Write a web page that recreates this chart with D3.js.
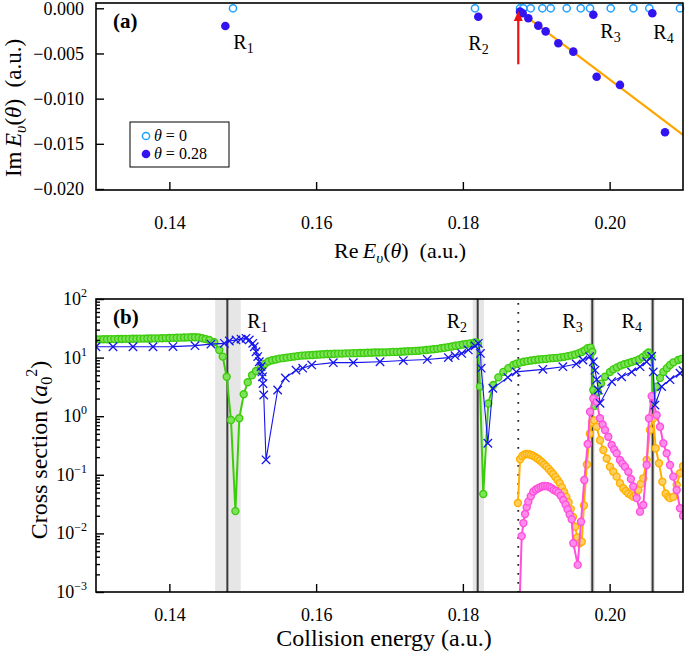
<!DOCTYPE html>
<html><head><meta charset="utf-8">
<script src="https://cdn.jsdelivr.net/npm/d3@7"></script>
<style>
body{margin:0;background:#fff}
svg{display:block}
text{font-family:"Liberation Serif","Times New Roman",serif;fill:#000}
</style>
</head><body>
<svg id="chart" width="685" height="656"></svg>
<script>
// ---------------- Panel (a) data ----------------
const openRe = [0.14867,0.18165,0.18779,0.18824,0.18924,0.19083,0.19197,0.19415,0.19606,0.19733,0.20015,0.20323,0.20541,0.20959];
const openIm = [0,0,0,0,0,0,0,0,0,0,0,0,0,0];
const filledRe = [0.14763,0.18210,0.18779,0.18815,0.18892,0.19028,0.19128,0.19301,0.19505,0.19778,0.19823,0.20141,0.20582,0.20755];
const filledIm = [-0.00196,-0.00093,-0.00037,-0.00055,-0.0011,-0.00192,-0.00255,-0.00387,-0.0048,-0.00071,-0.00757,-0.00848,-0.00055,-0.01372];
const fitRe = [0.1878,0.2100];
const fitIm = [-0.0004,-0.0140];
const arrowRe = 0.18755;
const arrowIm = [-0.0062,-0.0003];
const resLabelsA = [{n:"1",re:0.14763,im:-0.00196},{n:"2",re:0.18210,im:-0.00093},{n:"3",re:0.19778,im:-0.00071},{n:"4",re:0.20582,im:-0.00055}];
const xTicks = [0.14,0.16,0.18,0.20];
const xTickLabels = ["0.14","0.16","0.18","0.20"];
const yTicksA = [0,-0.005,-0.010,-0.015,-0.020];
const yTickLabelsA = ["0.000","\u22120.005","\u22120.010","\u22120.015","\u22120.020"];

// ---------------- Panel (b) data ----------------
const green = [
[0.1300,20.5],[0.1305,20.5],[0.1310,20.6],[0.1315,20.6],[0.1320,20.7],[0.1325,20.7],[0.1330,20.8],[0.1335,20.8],
[0.1340,20.9],[0.1345,20.9],[0.1350,21.0],[0.1355,21.0],[0.1360,21.1],[0.1365,21.1],[0.1370,21.2],[0.1375,21.2],
[0.1380,21.3],[0.1385,21.3],[0.1390,21.4],[0.1395,21.5],[0.1400,21.6],[0.1405,21.7],[0.1410,21.8],[0.1415,21.9],
[0.1420,22.0],[0.1425,22.1],[0.1430,22.2],[0.1435,22.2],[0.1440,22.0],[0.1445,21.4],[0.14495,20.7],[0.14544,20.0],
[0.14612,18.3],[0.14680,13.5],[0.14727,10.4],[0.14781,4.7],[0.14840,0.86],[0.14900,0.024],[0.14953,0.92],[0.15013,2.37],
[0.15068,3.8],[0.15126,5.0],[0.15181,5.9],[0.15249,7.0],[0.1530,7.8],[0.1535,8.6],[0.1540,9.0],[0.1545,9.3],
[0.1550,9.6],[0.1555,9.8],[0.1560,10.0],[0.1565,10.2],[0.1570,10.4],[0.1575,10.6],[0.1580,10.8],[0.1585,10.9],
[0.1590,11.0],[0.1595,11.1],[0.1600,11.2],[0.1605,11.3],[0.1610,11.4],[0.1615,11.5],[0.1620,11.5],[0.1625,11.6],
[0.1630,11.7],[0.1635,11.7],[0.1640,11.8],[0.1645,11.8],[0.1650,11.9],[0.1655,11.9],[0.1660,12.0],[0.1665,12.0],
[0.1670,12.1],[0.1675,12.1],[0.1680,12.2],[0.1685,12.2],[0.1690,12.3],[0.1695,12.3],[0.1700,12.4],[0.1705,12.5],
[0.1710,12.5],[0.1715,12.6],[0.1720,12.7],[0.1725,12.8],[0.1730,12.9],[0.1735,13.0],[0.1740,13.1],[0.1745,13.3],
[0.1750,13.5],[0.1755,13.7],[0.1760,13.9],[0.1765,14.1],[0.1770,14.4],[0.1775,14.7],[0.1780,15.1],[0.1785,15.5],
[0.1790,15.9],[0.1795,16.3],[0.1800,16.7],[0.1805,17.1],[0.1810,17.5],[0.1815,17.9],[0.18185,18.2],[0.18205,17.0],
[0.18233,3.2],[0.18278,0.047],[0.18346,1.65],[0.18415,3.4],[0.18483,4.6],[0.18551,5.7],[0.18619,6.6],[0.18687,7.5],
[0.1873,7.9],[0.18779,8.2],[0.1883,8.5],[0.1888,8.7],[0.1893,8.9],[0.1898,9.1],[0.1903,9.3],[0.1908,9.4],
[0.1913,9.5],[0.1918,9.7],[0.1923,9.8],[0.1928,9.9],[0.1933,10.1],[0.1938,10.3],[0.1943,10.6],[0.1948,10.9],
[0.1953,11.3],[0.1958,11.9],[0.1962,12.5],[0.1966,13.3],[0.1970,14.5],[0.1974,14.8],[0.19764,12.6],[0.19778,2.8],
[0.1980,1.5],[0.1984,2.6],[0.19883,3.6],[0.19937,4.7],[0.20005,5.7],[0.2005,6.3],[0.2010,6.8],[0.2015,7.3],
[0.2020,7.7],[0.2025,8.0],[0.2030,8.4],[0.2035,8.8],[0.2040,9.3],[0.2045,10.2],[0.2050,11.4],[0.2053,12.2],
[0.2057,10.5],[0.20595,1.8],[0.20641,3.2],[0.20687,4.5],[0.20732,5.7],[0.2078,6.6],[0.20823,7.5],[0.2087,8.3],
[0.20936,9.1],[0.2098,9.5]
];
const blue = [
[0.1300,15.3],[0.13232,15.3],[0.13504,15.3],[0.13777,15.3],[0.14049,15.4],[0.14349,16.0],[0.14567,17.0],[0.14749,17.5],
[0.14817,19.2],[0.14908,20.0],[0.14976,20.7],[0.15044,21.3],[0.15089,20.0],[0.15136,17.5],[0.15157,15.3],[0.15181,12.6],
[0.15204,10.4],[0.15226,8.5],[0.15249,7.0],[0.15262,5.7],[0.15270,4.7],[0.15276,3.6],[0.15286,2.3],[0.15317,0.18],
[0.15476,2.8],[0.15580,4.5],[0.15726,6.1],[0.15817,6.6],[0.15940,7.5],[0.16234,8.2],[0.16507,8.2],[0.16871,8.5],
[0.17188,8.9],[0.17515,9.3],[0.17802,10.0],[0.17893,10.8],[0.17984,11.8],[0.18074,13.5],[0.18165,15.8],[0.18210,17.5],
[0.18240,11.8],[0.18250,6.6],[0.18340,0.345],[0.18408,3.0],[0.18612,4.6],[0.18727,5.7],[0.19090,6.3],[0.19363,7.0],
[0.19545,7.8],[0.19636,9.1],[0.19727,10.4],[0.19778,8.5],[0.19801,6.1],[0.19824,4.2],[0.19846,2.8],[0.19869,1.66],
[0.20028,3.9],[0.20164,4.7],[0.20300,5.7],[0.20414,7.0],[0.20505,8.5],[0.20573,10.6],[0.20595,5.7],[0.20618,1.55],
[0.20709,3.2],[0.20823,4.2],[0.20959,5.4],[0.2100,6.0]
];
const orange = [
[0.18750,0.033],[0.18780,0.184],[0.18810,0.21],[0.18840,0.222],[0.18870,0.226],[0.18900,0.224],[0.18930,0.218],[0.18960,0.21],
[0.18990,0.199],[0.19020,0.188],[0.19050,0.175],[0.19080,0.163],[0.19110,0.150],[0.19140,0.138],[0.19170,0.126],[0.19200,0.114],
[0.19230,0.103],[0.19260,0.092],[0.19290,0.082],[0.19320,0.072],[0.19350,0.061],[0.19380,0.051],[0.19410,0.042],[0.19440,0.034],
[0.19470,0.026],[0.19500,0.019],[0.19530,0.013],[0.19560,0.0085],[0.19590,0.0068],[0.19620,0.0072],[0.19650,0.03],[0.19690,0.15],
[0.19730,0.5],[0.19760,0.78],[0.19790,0.85],[0.19824,0.66],[0.19869,0.39],[0.19914,0.265],[0.19960,0.19],[0.20005,0.137],
[0.20050,0.113],[0.20096,0.093],[0.20141,0.072],[0.20186,0.059],[0.20220,0.053],[0.20255,0.048],[0.20290,0.045],[0.20323,0.042],
[0.20358,0.045],[0.20391,0.055],[0.20425,0.07],[0.20459,0.087],[0.20505,0.179],[0.20550,0.58],[0.20595,0.92],[0.20628,0.283],
[0.20673,0.157],[0.20718,0.076],[0.20764,0.048],[0.20800,0.042],[0.20823,0.040],[0.20868,0.042],[0.20914,0.067],[0.20959,0.106],
[0.2100,0.14]
];
const magenta = [
[0.18765,0.0003],[0.18802,0.009],[0.18825,0.015],[0.18847,0.0214],[0.18870,0.028],[0.18892,0.0348],[0.18925,0.043],
[0.18960,0.0515],[0.18995,0.056],[0.19028,0.0589],[0.19060,0.062],[0.19090,0.064],[0.19119,0.0645],[0.19150,0.064],[0.19180,0.062],
[0.19210,0.0589],[0.19240,0.055],[0.19270,0.053],[0.19301,0.0496],[0.19335,0.044],[0.19369,0.0372],[0.19400,0.031],[0.19428,0.0257],
[0.19455,0.021],[0.19483,0.0174],[0.19505,0.0068],[0.19565,0.0029],[0.19610,0.0158],[0.19655,0.0815],[0.19701,0.336],[0.19733,1.19],
[0.19778,2.0],[0.19824,1.77],[0.19869,0.92],[0.19905,0.72],[0.19937,0.58],[0.19982,0.447],[0.20028,0.323],[0.20062,0.27],
[0.20096,0.233],[0.20141,0.179],[0.20175,0.155],[0.20209,0.137],[0.20255,0.113],[0.20290,0.085],[0.20323,0.063],[0.20369,0.040],
[0.20414,0.0235],[0.20459,0.0305],[0.20505,0.147],[0.20536,0.92],[0.20573,2.2],[0.20641,1.05],[0.20687,0.66],[0.20732,0.345],
[0.20778,0.233],[0.20823,0.147],[0.20868,0.093],[0.20914,0.055],[0.20959,0.0268],[0.2100,0.02]
];
const resE = [0.1479,0.18202,0.19764,0.20586];
const resBandLo = [0.14624,0.18134,0.19729,0.20556];
const resBandHi = [0.14972,0.18288,0.19799,0.20616];
const resNames = ["1","2","3","4"];
const thresholdE = 0.18755;
const yTicksB = [1e-3,1e-2,1e-1,1e0,1e1,1e2];
const yTickExpB = ["\u22123","\u22122","\u22121","0","1","2"];

// ---------------- Drawing ----------------
const svg = d3.select("#chart");
const L = 96, R = 683;

// Panel (a)
const xA = d3.scaleLinear().domain([0.13,0.21]).range([L,R]);
const yA = d3.scaleLinear().domain([-0.02011,0.000586]).range([190,3]);
const gA = svg.append("g");
gA.append("defs").append("clipPath").attr("id","clipA").append("rect")
  .attr("x",L).attr("y",3).attr("width",R-L).attr("height",187);

gA.append("line").attr("clip-path","url(#clipA)")
  .attr("x1",xA(fitRe[0])).attr("y1",yA(fitIm[0])).attr("x2",xA(fitRe[1])).attr("y2",yA(fitIm[1]))
  .attr("stroke","#ffa500").attr("stroke-width",2.2);

gA.append("g").selectAll("circle").data(openRe).join("circle")
  .attr("cx",d=>xA(d)).attr("cy",(d,i)=>yA(openIm[i])).attr("r",3.6)
  .attr("fill","#fff").attr("stroke","#1ea0ff").attr("stroke-width",1.5);
gA.append("g").selectAll("circle").data(filledRe).join("circle")
  .attr("cx",d=>xA(d)).attr("cy",(d,i)=>yA(filledIm[i])).attr("r",4.3)
  .attr("fill","#3214f0");

gA.append("line").attr("x1",xA(arrowRe)).attr("x2",xA(arrowRe))
  .attr("y1",yA(arrowIm[0])).attr("y2",yA(arrowIm[1])+7)
  .attr("stroke","#ee1111").attr("stroke-width",2.2);
{
  const ax = xA(arrowRe), ay = yA(arrowIm[1]);
  gA.append("path").attr("d",`M${ax},${ay} L${ax-4.5},${ay+10} L${ax+4.5},${ay+10} Z`).attr("fill","#ee1111");
}

const axA_x = d3.axisBottom(xA).tickValues(xTicks).tickFormat((d,i)=>xTickLabels[i])
  .tickSizeInner(-8).tickSizeOuter(0).tickPadding(26);
gA.append("g").attr("transform","translate(0,190)").call(axA_x);
const axA_y = d3.axisLeft(yA).tickValues(yTicksA).tickFormat((d,i)=>yTickLabelsA[i])
  .tickSizeInner(-8).tickSizeOuter(0).tickPadding(12);
gA.append("g").attr("transform",`translate(${L},0)`).call(axA_y);
gA.append("rect").attr("x",L).attr("y",3).attr("width",R-L).attr("height",187)
  .attr("fill","none").attr("stroke","#000").attr("stroke-width",1.6);

const offA = [[8,23],[-10,33],[7,23],[1,26]];
resLabelsA.forEach((r,i)=>{
  const t = gA.append("text").attr("x",xA(r.re)+offA[i][0]).attr("y",yA(r.im)+offA[i][1]).attr("font-size",20);
  t.append("tspan").text("R");
  t.append("tspan").attr("font-size",14).attr("dy",4).text(r.n);
});

const lg = gA.append("g");
lg.append("rect").attr("x",130).attr("y",122).attr("width",99).attr("height",45)
  .attr("fill","#fff").attr("stroke","#000").attr("stroke-width",1);
lg.append("circle").attr("cx",146).attr("cy",136).attr("r",3.6).attr("fill","#fff").attr("stroke","#1ea0ff").attr("stroke-width",1.5);
lg.append("circle").attr("cx",146).attr("cy",154).attr("r",4.3).attr("fill","#3214f0");
[["0",141],["0.28",159]].forEach(([v,y])=>{
  const t = lg.append("text").attr("x",154).attr("y",y).attr("font-size",16);
  t.append("tspan").attr("font-style","italic").text("\u03b8");
  t.append("tspan").text(" = "+v);
});

gA.append("text").attr("x",113).attr("y",28).attr("font-size",21).attr("font-weight","bold").text("(a)");

{
  const t = gA.append("text").attr("x",400).attr("y",258).attr("text-anchor","middle").attr("font-size",22);
  t.append("tspan").text("Re\u2009");
  t.append("tspan").attr("font-style","italic").text("E");
  t.append("tspan").attr("font-style","italic").attr("font-size",15).attr("dy",5).text("\u03c5");
  t.append("tspan").attr("dy",-5).text("(");
  t.append("tspan").attr("font-style","italic").text("\u03b8");
  t.append("tspan").text(")\u2002(a.u.)");
}
{
  const t = gA.append("text").attr("transform","translate(21,108) rotate(-90)").attr("text-anchor","middle").attr("font-size",23);
  t.append("tspan").text("Im\u2009");
  t.append("tspan").attr("font-style","italic").text("E");
  t.append("tspan").attr("font-style","italic").attr("font-size",16).attr("dy",5).text("\u03c5");
  t.append("tspan").attr("dy",-5).text("(");
  t.append("tspan").attr("font-style","italic").text("\u03b8");
  t.append("tspan").text(")\u2002(a.u.)");
}

// Panel (b)
const T = 299, B = 592;
const xB = d3.scaleLinear().domain([0.13,0.21]).range([L,R]);
const yB = d3.scaleLog().domain([1e-3,1e2]).range([B,T]);
const gB = svg.append("g");
gB.append("defs").append("clipPath").attr("id","clipB").append("rect")
  .attr("x",L).attr("y",T).attr("width",R-L).attr("height",B-T);

gB.append("g").selectAll("rect").data(resE).join("rect")
  .attr("x",(d,i)=>xB(resBandLo[i])).attr("width",(d,i)=>xB(resBandHi[i])-xB(resBandLo[i]))
  .attr("y",T).attr("height",B-T).attr("fill","#e6e6e6");
gB.append("g").selectAll("line").data(resE).join("line")
  .attr("x1",d=>xB(d)).attr("x2",d=>xB(d)).attr("y1",T).attr("y2",B)
  .attr("stroke","#3a3a3a").attr("stroke-width",2);
gB.append("line").attr("x1",xB(thresholdE)).attr("x2",xB(thresholdE)).attr("y1",T+4).attr("y2",B)
  .attr("stroke","#222").attr("stroke-width",1.8).attr("stroke-dasharray","1.8,7.2");

const plot = gB.append("g").attr("clip-path","url(#clipB)");
const lineGen = d3.line().x(d=>xB(d[0])).y(d=>yB(d[1]));

function circleSeries(data, lineColor, fill, stroke){
  plot.append("path").datum(data).attr("d",lineGen).attr("fill","none")
    .attr("stroke",lineColor).attr("stroke-width",2);
  plot.append("g").selectAll("circle").data(data.filter(d=>d[1]>=1e-3)).join("circle")
    .attr("cx",d=>xB(d[0])).attr("cy",d=>yB(d[1])).attr("r",3.5)
    .attr("fill",fill).attr("stroke",stroke).attr("stroke-width",1.4);
}
circleSeries(green,"#3ccc0c","#7ee25a","#3ccc0c");
circleSeries(orange,"#ffb000","#ffd060","#ffb000");
circleSeries(magenta,"#ff4fdc","#ff8cea","#ff4fdc");

plot.append("path").datum(blue).attr("d",lineGen).attr("fill","none")
  .attr("stroke","#1515ee").attr("stroke-width",1.1);
plot.append("g").selectAll("path").data(blue).join("path")
  .attr("d",d=>{const x=xB(d[0]),y=yB(d[1]),s=4.2;return `M${x-s},${y-s}L${x+s},${y+s}M${x-s},${y+s}L${x+s},${y-s}`;})
  .attr("stroke","#1515ee").attr("stroke-width",1.3).attr("fill","none");

const axB_x = d3.axisBottom(xB).tickValues(xTicks).tickFormat((d,i)=>xTickLabels[i])
  .tickSizeInner(-8).tickSizeOuter(0).tickPadding(16);
gB.append("g").attr("transform",`translate(0,${B})`).call(axB_x);
const minor = [];
for(let e=-3;e<2;e++) for(let m=2;m<10;m++) minor.push(m*Math.pow(10,e));
gB.append("g").attr("transform",`translate(${L},0)`)
  .call(d3.axisLeft(yB).tickValues(minor).tickFormat("").tickSizeInner(-4).tickSizeOuter(0));
gB.append("g").attr("transform",`translate(${L},0)`)
  .call(d3.axisLeft(yB).tickValues(yTicksB).tickFormat("").tickSizeInner(-8).tickSizeOuter(0));
yTicksB.forEach((v,i)=>{
  const t = gB.append("text").attr("x",L-9).attr("y",yB(v)+6).attr("text-anchor","end").attr("font-size",18);
  t.append("tspan").text("10");
  t.append("tspan").attr("font-size",12).attr("dy",-8).text(yTickExpB[i]);
});
gB.selectAll(".domain").attr("stroke","none");
gA.selectAll(".domain").attr("stroke","none");
svg.selectAll(".tick line").attr("stroke","#000").attr("stroke-width",1.4);
svg.selectAll(".tick text").attr("font-size",18).attr("font-family","'Liberation Serif',serif");
gB.append("rect").attr("x",L).attr("y",T).attr("width",R-L).attr("height",B-T)
  .attr("fill","none").attr("stroke","#000").attr("stroke-width",1.6);

const rLabelX = [20,-31,-30,-31];
resE.forEach((e,i)=>{
  const t = gB.append("text").attr("x",xB(e)+rLabelX[i]).attr("y",328).attr("font-size",20);
  t.append("tspan").text("R");
  t.append("tspan").attr("font-size",14).attr("dy",4).text(resNames[i]);
});

gB.append("text").attr("x",113).attr("y",324).attr("font-size",21).attr("font-weight","bold").text("(b)");

gB.append("text").attr("x",384).attr("y",646).attr("text-anchor","middle").attr("font-size",24).text("Collision energy (a.u.)");
{
  const t = gB.append("text").attr("transform","translate(47,450) rotate(-90)").attr("text-anchor","middle").attr("font-size",24);
  t.append("tspan").text("Cross section (");
  t.append("tspan").attr("font-style","italic").text("a");
  t.append("tspan").attr("font-size",16).attr("dy",5).text("0");
  t.append("tspan").attr("font-size",16).attr("dy",-15).text("2");
  t.append("tspan").attr("dy",10).text(")");
}
</script>
</body></html>
